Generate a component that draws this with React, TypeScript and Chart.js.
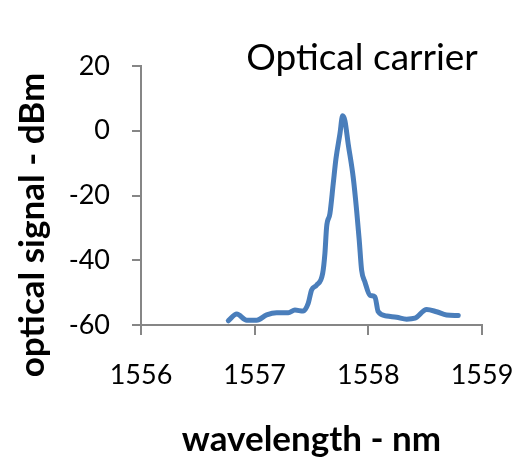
import React, { useEffect, useRef } from "react";
import { Chart, registerables } from "chart.js";

Chart.register(...registerables);

const chartTitle = "Optical carrier";
const xAxisTitle = "wavelength - nm";
const yAxisTitle = "optical signal - dBm";

const xTickValues = [1556, 1557, 1558, 1559];
const yTickValues = [-60, -40, -20, 0, 20];

const wavelengthNm = [
  1556.768, 1556.842, 1556.93, 1557.018, 1557.105, 1557.193, 1557.296, 1557.354,
  1557.427, 1557.471, 1557.501, 1557.545, 1557.598, 1557.618, 1557.633, 1557.662,
  1557.691, 1557.715, 1557.75, 1557.774, 1557.794, 1557.823, 1557.867, 1557.897,
  1557.92, 1557.941, 1557.97, 1558.014, 1558.058, 1558.087, 1558.161, 1558.249,
  1558.337, 1558.41, 1558.513, 1558.6, 1558.688, 1558.791,
];
const powerDbm = [
  -58.7, -56.6, -58.5, -58.5, -56.9, -56.2, -56.2, -55.4,
  -55.7, -53.3, -49.2, -47.7, -44.1, -37.9, -29.7, -25.6,
  -16.4, -8.7, -1.0, 4.6, 3.1, -4.1, -14.4, -24.6,
  -33.8, -43.1, -46.7, -50.8, -51.3, -55.9, -57.2, -57.6,
  -58.2, -57.9, -55.2, -55.9, -56.9, -57.1,
];

const AXIS_COLOR = "#868686";
const LINE_COLOR = "#4a7ebb";
const FONT = "Lato, 'Open Sans', sans-serif";

export default function App() {
  const canvasRef = useRef<HTMLCanvasElement | null>(null);

  useEffect(() => {
    document.body.style.margin = "0";
    const canvas = canvasRef.current;
    if (!canvas) return;

    const textPlugin = {
      id: "extraTexts",
      afterDraw(chart: any) {
        const ctx = chart.ctx;
        ctx.save();
        ctx.fillStyle = "#000";
        ctx.font = `37px ${FONT}`;
        ctx.textAlign = "center";
        ctx.textBaseline = "alphabetic";
        ctx.fillText(chartTitle, 362, 70);

        ctx.translate(33, 225);
        ctx.rotate(-Math.PI / 2);
        ctx.font = `bold 35px ${FONT}`;
        ctx.textAlign = "center";
        ctx.textBaseline = "middle";
        ctx.fillText(yAxisTitle, 0, 0);
        ctx.restore();
      },
    };

    const chart = new Chart(canvas, {
      type: "line",
      data: {
        datasets: [
          {
            data: wavelengthNm.map((x, i) => ({ x, y: powerDbm[i] })),
            borderColor: LINE_COLOR,
            backgroundColor: LINE_COLOR,
            borderWidth: 5,
            pointRadius: 0,
            cubicInterpolationMode: "monotone",
            borderCapStyle: "round",
            borderJoinStyle: "round",
            fill: false,
          },
        ],
      },
      options: {
        animation: false,
        responsive: true,
        maintainAspectRatio: false,
        layout: { padding: { top: 66, right: 37, left: 0, bottom: 0 } },
        plugins: {
          legend: { display: false },
          title: { display: false },
          tooltip: { enabled: false },
        },
        scales: {
          x: {
            type: "linear",
            min: 1556,
            max: 1559,
            afterBuildTicks: (s: any) => {
              s.ticks = xTickValues.map((v) => ({ value: v }));
            },
            afterFit: (s: any) => {
              s.height = 132;
              s.paddingLeft = 0;
              s.paddingRight = 0;
            },
            grid: {
              display: true,
              drawOnChartArea: false,
              drawTicks: true,
              tickLength: 10,
              color: AXIS_COLOR,
              lineWidth: 2,
            },
            border: { display: true, color: AXIS_COLOR, width: 2 },
            ticks: {
              color: "#000",
              padding: 24,
              font: { family: FONT, size: 27 },
              maxRotation: 0,
              callback: (v: any) => String(v),
            },
            title: {
              display: true,
              text: xAxisTitle,
              color: "#000",
              font: { family: FONT, size: 35, weight: "bold", lineHeight: 1 },
              padding: { top: 1, bottom: 0 },
            },
          },
          y: {
            type: "linear",
            min: -60,
            max: 20,
            afterBuildTicks: (s: any) => {
              s.ticks = yTickValues.map((v) => ({ value: v }));
            },
            afterFit: (s: any) => {
              s.width = 141;
            },
            grid: {
              display: true,
              drawOnChartArea: false,
              drawTicks: true,
              tickLength: 9,
              color: AXIS_COLOR,
              lineWidth: 2,
            },
            border: { display: true, color: AXIS_COLOR, width: 2 },
            ticks: {
              color: "#000",
              padding: 22,
              font: { family: FONT, size: 27 },
              callback: (v: any) => String(v),
            },
            title: { display: false },
          },
        },
      },
      plugins: [textPlugin],
    } as any);

    return () => chart.destroy();
  }, []);

  return (
    <div style={{ position: "fixed", left: 0, top: 0, width: 519, height: 457, background: "#fff" }}>
      <canvas ref={canvasRef} />
    </div>
  );
}
